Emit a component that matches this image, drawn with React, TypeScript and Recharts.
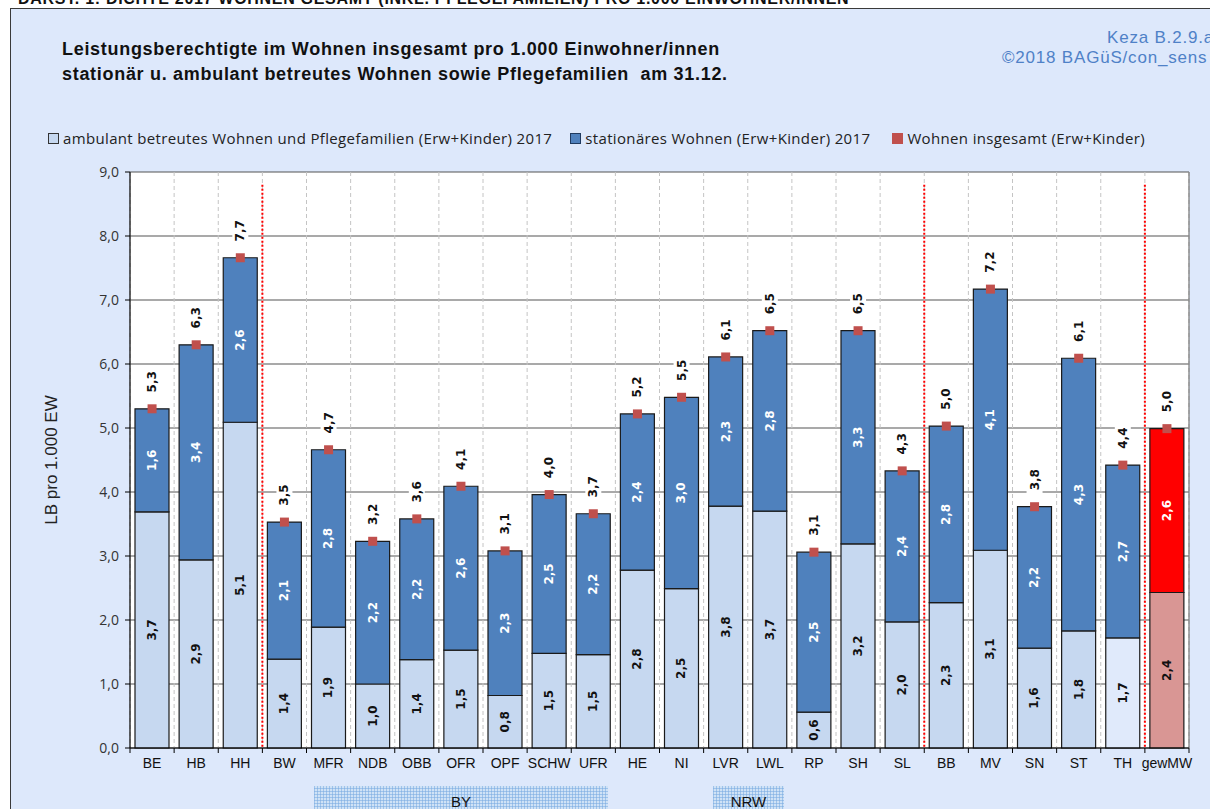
import React from 'react';
import {
  ComposedChart,
  Bar,
  Line,
  XAxis,
  YAxis,
  CartesianGrid,
  ReferenceLine,
  LabelList,
  Cell,
  Legend,
} from 'recharts';

const categories = ['BE', 'HB', 'HH', 'BW', 'MFR', 'NDB', 'OBB', 'OFR', 'OPF', 'SCHW', 'UFR', 'HE', 'NI', 'LVR', 'LWL', 'RP', 'SH', 'SL', 'BB', 'MV', 'SN', 'ST', 'TH', 'gewMW'];
const ambulant = [3.69, 2.94, 5.09, 1.39, 1.89, 1.0, 1.38, 1.53, 0.82, 1.48, 1.46, 2.78, 2.49, 3.78, 3.7, 0.56, 3.19, 1.97, 2.27, 3.09, 1.56, 1.83, 1.72, 2.43];
const stationaer = [1.61, 3.36, 2.57, 2.14, 2.77, 2.23, 2.2, 2.56, 2.26, 2.48, 2.2, 2.44, 2.99, 2.33, 2.82, 2.5, 3.33, 2.36, 2.76, 4.08, 2.21, 4.26, 2.7, 2.56];
const gesamt = [5.3, 6.3, 7.66, 3.53, 4.66, 3.23, 3.58, 4.09, 3.08, 3.96, 3.66, 5.22, 5.48, 6.11, 6.52, 3.06, 6.52, 4.33, 5.03, 7.17, 3.77, 6.09, 4.42, 4.99];
const yTicks = [0, 1, 2, 3, 4, 5, 6, 7, 8, 9];
const separators = [3, 18, 23];

const seriesNames = {
  amb: 'ambulant betreutes Wohnen und Pflegefamilien (Erw+Kinder) 2017',
  stat: 'stationäres Wohnen (Erw+Kinder) 2017',
  ges: 'Wohnen insgesamt (Erw+Kinder)',
};

const data = categories.map((c, i) => ({
  x: i + 0.5,
  name: c,
  amb: ambulant[i],
  stat: stationaer[i],
  ges: gesamt[i],
}));

const boundaryTicks = categories.map((_, i) => i).concat([categories.length]);
const centerTicks = categories.map((_, i) => i + 0.5);

const fmt = (v: number) => v.toFixed(1).replace('.', ',');

const LABEL_FONT = '"DejaVu Sans", Verdana, sans-serif';
const ARIAL = '"Liberation Sans", Arial, sans-serif';

const SegLabel = (color: string) => (props: any) => {
  const { x, y, width, height, value } = props;
  if (value == null) return null;
  const cx = x + width / 2;
  const cy = y + height / 2;
  return (
    <text
      x={cx}
      y={cy}
      transform={`rotate(-90 ${cx} ${cy})`}
      textAnchor="middle"
      dominantBaseline="central"
      fontFamily={LABEL_FONT}
      fontWeight="bold"
      fontSize={12}
      fill={color}
    >
      {fmt(value)}
    </text>
  );
};

const TotalLabel = (props: any) => {
  const { x, y, value } = props;
  if (value == null) return null;
  const cx = x;
  const cy = y - 27;
  return (
    <g>
      <rect x={cx - 8} y={cy - 14} width={16} height={28} fill="#ffffff" />
      <text
        x={cx}
        y={cy}
        transform={`rotate(-90 ${cx} ${cy})`}
        textAnchor="middle"
        dominantBaseline="central"
        fontFamily={LABEL_FONT}
        fontWeight="bold"
        fontSize={12}
        fill="#111"
      >
        {fmt(value)}
      </text>
    </g>
  );
};

const SquareDot = (props: any) => {
  const { cx, cy } = props;
  if (cx == null || cy == null) return null;
  return <rect x={cx - 4.5} y={cy - 4.5} width={9} height={9} fill="#c0504d" />;
};

const LegendContent = () => {
  const items = [
    { name: seriesNames.amb, fill: '#c6d8f0', stroke: '#333', mr: 18 },
    { name: seriesNames.stat, fill: '#4f81bd', stroke: '#1f3a5f', mr: 22 },
    { name: seriesNames.ges, fill: '#c0504d', stroke: '#c0504d', mr: 0 },
  ];
  return (
    <div
      style={{
        display: 'flex',
        fontFamily: '"Open Sans", sans-serif',
        fontSize: 15,
        letterSpacing: 0.35,
        color: '#222',
        whiteSpace: 'nowrap',
      }}
    >
      {items.map((it, i) => (
        <div key={i} style={{ display: 'flex', alignItems: 'center', marginRight: it.mr }}>
          <span
            style={{
              display: 'inline-block',
              width: 9,
              height: 9,
              background: it.fill,
              border: `1px solid ${it.stroke}`,
              marginRight: 4,
            }}
          />
          <span>{it.name}</span>
        </div>
      ))}
    </div>
  );
};

export default function App() {
  return (
    <div style={{ position: 'absolute', left: 0, top: 0, width: 1210, height: 809, overflow: 'hidden', background: '#ffffff' }}>
      <div
        style={{
          position: 'absolute',
          left: 18,
          top: -9,
          fontFamily: ARIAL,
          fontWeight: 'bold',
          fontSize: 16,
          lineHeight: '16px',
          letterSpacing: 0.7,
          color: '#111',
          whiteSpace: 'nowrap',
        }}
      >
        DARST. 1: DICHTE 2017 WOHNEN GESAMT (INKL. PFLEGEFAMILIEN) PRO 1.000 EINWOHNER/INNEN
      </div>
      <div
        style={{
          position: 'absolute',
          left: 10,
          top: 8,
          width: 1230,
          height: 830,
          background: '#dde8fb',
          borderTop: '1.5px solid #3a3a3a',
          borderLeft: '1.5px solid #3a3a3a',
        }}
      />
      <div
        style={{
          position: 'absolute',
          left: 62,
          top: 37,
          fontFamily: ARIAL,
          fontWeight: 'bold',
          fontSize: 18,
          lineHeight: '25px',
          letterSpacing: 0.7,
          color: '#111',
          whiteSpace: 'nowrap',
        }}
      >
        <div>Leistungsberechtigte im Wohnen insgesamt pro 1.000 Einwohner/innen</div>
        <div>stationär u. ambulant betreutes Wohnen sowie Pflegefamilien&nbsp; am 31.12.</div>
      </div>
      <div
        style={{
          position: 'absolute',
          left: 1107,
          top: 28,
          fontFamily: ARIAL,
          fontSize: 17,
          lineHeight: '20px',
          letterSpacing: 0.8,
          color: '#4f81c7',
          whiteSpace: 'nowrap',
        }}
      >
        Keza B.2.9.a
      </div>
      <div
        style={{
          position: 'absolute',
          left: 1002,
          top: 48,
          fontFamily: ARIAL,
          fontSize: 17,
          lineHeight: '20px',
          letterSpacing: 0.8,
          color: '#4f81c7',
          whiteSpace: 'nowrap',
        }}
      >
        ©2018 BAGüS/con_sens
      </div>
      <div
        style={{
          position: 'absolute',
          left: 52,
          top: 460,
          transform: 'translate(-50%, -50%) rotate(-90deg)',
          fontFamily: ARIAL,
          fontSize: 17,
          color: '#222',
          whiteSpace: 'nowrap',
        }}
      >
        LB pro 1.000 EW
      </div>
      {[
        { label: 'BY', left: 314, width: 294 },
        { label: 'NRW', left: 713, width: 71 },
      ].map((b) => (
        <div
          key={b.label}
          style={{
            position: 'absolute',
            left: b.left,
            top: 786,
            width: b.width,
            height: 30,
            backgroundColor: '#cfe2f6',
            backgroundImage:
              'repeating-linear-gradient(0deg, rgba(120,170,225,0.55) 0px, rgba(120,170,225,0.55) 1px, transparent 1px, transparent 3px), repeating-linear-gradient(90deg, rgba(120,170,225,0.55) 0px, rgba(120,170,225,0.55) 1px, transparent 1px, transparent 3px)',
            textAlign: 'center',
            fontFamily: ARIAL,
            fontSize: 15,
            lineHeight: '32px',
            color: '#111',
          }}
        >
          {b.label}
        </div>
      ))}
      <div style={{ position: 'absolute', left: 0, top: 0 }}>
        <ComposedChart
          width={1210}
          height={809}
          data={data}
          margin={{ top: 172, right: 21, bottom: 30, left: 70 }}
        >
          <CartesianGrid
            xAxisId="b"
            vertical={false}
            horizontal
            stroke="#555555"
            strokeWidth={1.2}
            fill="#ffffff"
            fillOpacity={1}
          />
          <CartesianGrid
            xAxisId="b"
            vertical
            horizontal={false}
            stroke="#c4c4c4"
            strokeDasharray="4 3"
          />
          <XAxis
            xAxisId="b"
            dataKey="x"
            type="number"
            domain={[0, categories.length]}
            ticks={boundaryTicks}
            tickFormatter={() => ''}
            tickSize={5}
            height={6}
            interval={0}
            axisLine={{ stroke: '#000', strokeWidth: 1.2 }}
            tickLine={{ stroke: '#000' }}
            allowDataOverflow
          />
          <XAxis
            xAxisId="c"
            dataKey="x"
            type="number"
            domain={[0, categories.length]}
            ticks={centerTicks}
            interval={0}
            tickFormatter={(v: number) => categories[Math.floor(v)]}
            axisLine={false}
            tickLine={false}
            tickSize={3}
            tickMargin={1}
            height={25}
            tick={{ fontFamily: ARIAL, fontSize: 14, fill: '#111' }}
          />
          <YAxis
            domain={[0, 9]}
            ticks={yTicks}
            interval={0}
            width={60}
            tickFormatter={fmt}
            tickSize={5}
            tickMargin={6}
            axisLine={{ stroke: '#000', strokeWidth: 1.2 }}
            tickLine={{ stroke: '#000' }}
            tick={{ fontFamily: '"Open Sans", sans-serif', fontSize: 14, fill: '#333' }}
          />
          <ReferenceLine
            xAxisId="b"
            x={categories.length}
            stroke="#777777"
            strokeWidth={1.2}
          />
          {separators.map((s) => (
            <ReferenceLine
              key={s}
              xAxisId="b"
              segment={[
                { x: s, y: 8.8 },
                { x: s, y: 0 },
              ]}
              stroke="#ff0000"
              strokeWidth={2}
              strokeDasharray="2 2"
            />
          ))}
          <Legend
            layout="vertical"
            align="center"
            verticalAlign="middle"
            content={<LegendContent />}
            wrapperStyle={{ position: 'absolute', top: 128, left: 48, width: 'auto' }}
          />
          <Bar
            xAxisId="b"
            dataKey="amb"
            name={seriesNames.amb}
            stackId="s"
            barSize={34}
            fill="#c6d8f0"
            stroke="#1a1a1a"
            strokeWidth={1.2}
            isAnimationActive={false}
          >
            {data.map((d) => (
              <Cell
                key={d.name}
                fill={d.name === 'gewMW' ? '#d99694' : d.name === 'TH' ? '#e0eafb' : '#c6d8f0'}
              />
            ))}
            <LabelList dataKey="amb" content={SegLabel('#111')} />
          </Bar>
          <Bar
            xAxisId="b"
            dataKey="stat"
            name={seriesNames.stat}
            stackId="s"
            barSize={34}
            fill="#4f81bd"
            stroke="#1a1a1a"
            strokeWidth={1.2}
            isAnimationActive={false}
          >
            {data.map((d) => (
              <Cell key={d.name} fill={d.name === 'gewMW' ? '#ff0000' : '#4f81bd'} />
            ))}
            <LabelList dataKey="stat" content={SegLabel('#ffffff')} />
          </Bar>
          <Line
            xAxisId="b"
            dataKey="ges"
            name={seriesNames.ges}
            stroke="none"
            dot={<SquareDot />}
            activeDot={false}
            isAnimationActive={false}
          >
            <LabelList dataKey="ges" content={TotalLabel} />
          </Line>
        </ComposedChart>
      </div>
    </div>
  );
}
